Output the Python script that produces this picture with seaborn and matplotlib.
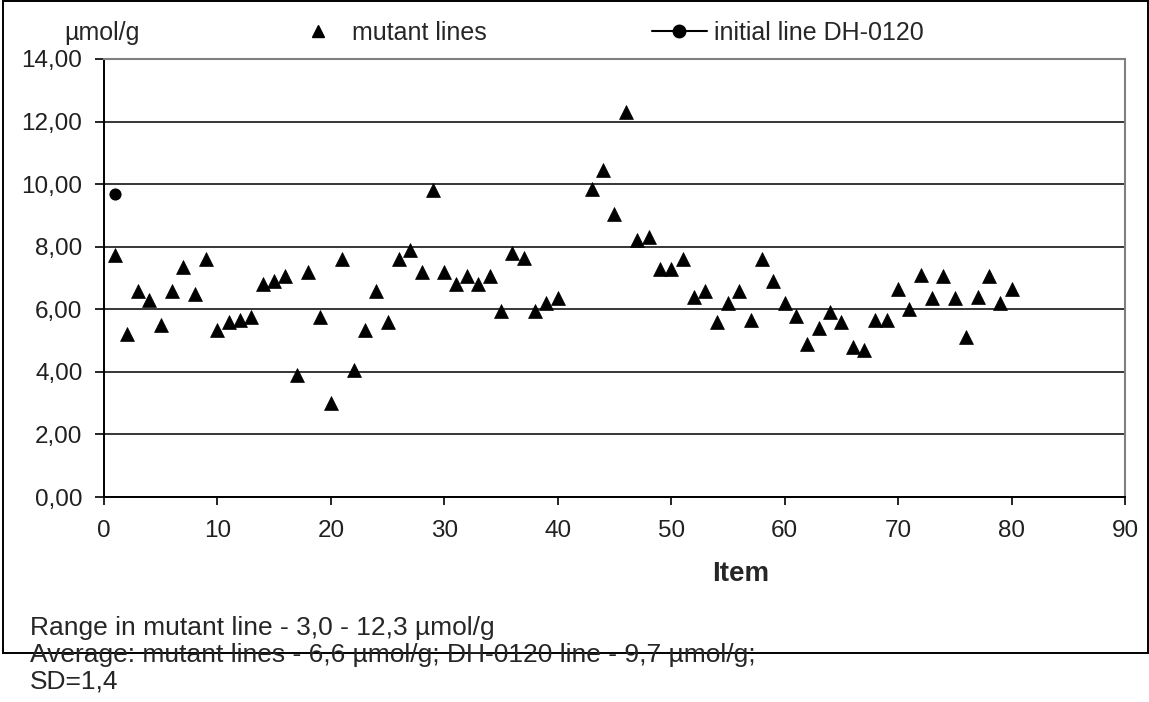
# ==========================================
# IMPORT LIBRARIES
# ==========================================

import pandas as pd
import matplotlib
matplotlib.use("Agg")
import matplotlib.pyplot as plt
from matplotlib.lines import Line2D
from matplotlib.patches import Rectangle
import seaborn as sns

# ==========================================
# DATA
# ==========================================

mutant_items = [
    1, 2, 3, 4, 5, 6, 7, 8, 9, 10,
    11, 12, 13, 14, 15, 16, 17, 18, 19, 20,
    21, 22, 23, 24, 25, 26, 27, 28, 29, 30,
    31, 32, 33, 34, 35, 36, 37, 38, 39, 40,
    43, 44, 45, 46, 47, 48, 49, 50,
    51, 52, 53, 54, 55, 56, 57, 58, 59, 60,
    61, 62, 63, 64, 65, 66, 67, 68, 69, 70,
    71, 72, 73, 74, 75, 76, 77, 78, 79, 80,
]
mutant_values = [
    7.75, 5.2, 6.6, 6.3, 5.5, 6.6, 7.35, 6.5, 7.6, 5.35,
    5.6, 5.65, 5.75, 6.8, 6.9, 7.05, 3.9, 7.2, 5.75, 3.0,
    7.6, 4.05, 5.35, 6.6, 5.6, 7.6, 7.9, 7.2, 9.8, 7.2,
    6.8, 7.05, 6.8, 7.05, 5.95, 7.8, 7.65, 5.95, 6.2, 6.35,
    9.85, 10.45, 9.05, 12.3, 8.2, 8.3, 7.3, 7.3,
    7.6, 6.4, 6.6, 5.6, 6.2, 6.6, 5.65, 7.6, 6.9, 6.2,
    5.8, 4.9, 5.4, 5.9, 5.6, 4.8, 4.7, 5.65, 5.65, 6.65,
    6.0, 7.1, 6.35, 7.05, 6.35, 5.1, 6.4, 7.05, 6.2, 6.65,
]

initial_items = [1]
initial_values = [9.7]

x_ticks = [0, 10, 20, 30, 40, 50, 60, 70, 80, 90]
y_ticks = [0, 2, 4, 6, 8, 10, 12, 14]
y_tick_labels = ["0,00", "2,00", "4,00", "6,00", "8,00", "10,00", "12,00", "14,00"]

series_labels = ["mutant lines", "initial line DH-0120"]
unit_label = "µmol/g"
x_label = "Item"
notes = [
    "Range in mutant line - 3,0 - 12,3 µmol/g",
    "Average: mutant lines - 6,6 µmol/g; DH-0120 line - 9,7 µmol/g;",
    "SD=1,4",
]

df_mut = pd.DataFrame({"item": mutant_items, "value": mutant_values})
df_init = pd.DataFrame({"item": initial_items, "value": initial_values})

# ==========================================
# STYLE
# ==========================================

sns.set_style("white")
plt.rcParams["font.family"] = ["Liberation Sans", "DejaVu Sans"]

fig = plt.figure(figsize=(11.49, 7.02), dpi=100)
ax = fig.add_axes([0.0905, 0.2920, 0.8886, 0.6240])

# ==========================================
# PLOT
# ==========================================

sns.scatterplot(data=df_mut, x="item", y="value", marker="^", s=100,
                color="black", edgecolor="black", linewidth=0.5,
                ax=ax, legend=False, zorder=3)
sns.lineplot(data=df_init, x="item", y="value", marker="o", markersize=9.5,
             color="black", ax=ax, legend=False, zorder=3)

ax.set_xlim(0, 90)
ax.set_ylim(0, 14)
ax.set_xticks(x_ticks)
ax.set_yticks(y_ticks)
ax.set_yticklabels(y_tick_labels)

ax.yaxis.grid(True, color="black", linewidth=1.1)
ax.xaxis.grid(False)
ax.set_axisbelow(True)

for side in ["left", "bottom"]:
    ax.spines[side].set_color("black")
    ax.spines[side].set_linewidth(1.4)
for side in ["top", "right"]:
    ax.spines[side].set_color("#808080")
    ax.spines[side].set_linewidth(1.5)

ax.tick_params(axis="y", direction="out", length=6.5, width=1.2,
               pad=9, labelsize=17.5, colors="black", left=True)
ax.tick_params(axis="x", direction="out", length=5.5, width=1.2,
               pad=11, labelsize=17.5, colors="black", bottom=True)
for lbl in ax.get_xticklabels() + ax.get_yticklabels():
    lbl.set_color("#202020")

ax.set_ylabel("")
ax.set_xlabel(x_label, fontsize=20, fontweight="bold")
ax.xaxis.set_label_coords(0.624, -0.146)
ax.xaxis.label.set_verticalalignment("top")

# unit label above the y axis
fig.text(102 / 1149, 1 - 33 / 702, unit_label, fontsize=18,
         ha="center", va="center")

# legend across the top
handles = [
    Line2D([], [], linestyle="none", marker="^", markersize=9,
           color="black"),
    Line2D([], [], linestyle="-", marker="o", markersize=9,
           color="black", linewidth=1.5),
]
fig.legend(handles, series_labels, loc="center left",
           bbox_to_anchor=(290 / 1149, 1 - 33 / 702), ncol=2,
           frameon=False, fontsize=18, handlelength=2.2,
           handletextpad=0.28, columnspacing=6.6, borderpad=0,
           borderaxespad=0)

# notes under the chart
for i, line in enumerate(notes):
    fig.text(30 / 1149, 1 - (628 + 27 * i) / 702, line, fontsize=19,
             ha="left", va="center")

# outer chart frame
fig.patches.append(Rectangle((3 / 1149, 1 - 653 / 702),
                             1145 / 1149, 652 / 702,
                             transform=fig.transFigure, fill=False,
                             edgecolor="black", linewidth=1.4))

fig.savefig("out.png", dpi=100)
